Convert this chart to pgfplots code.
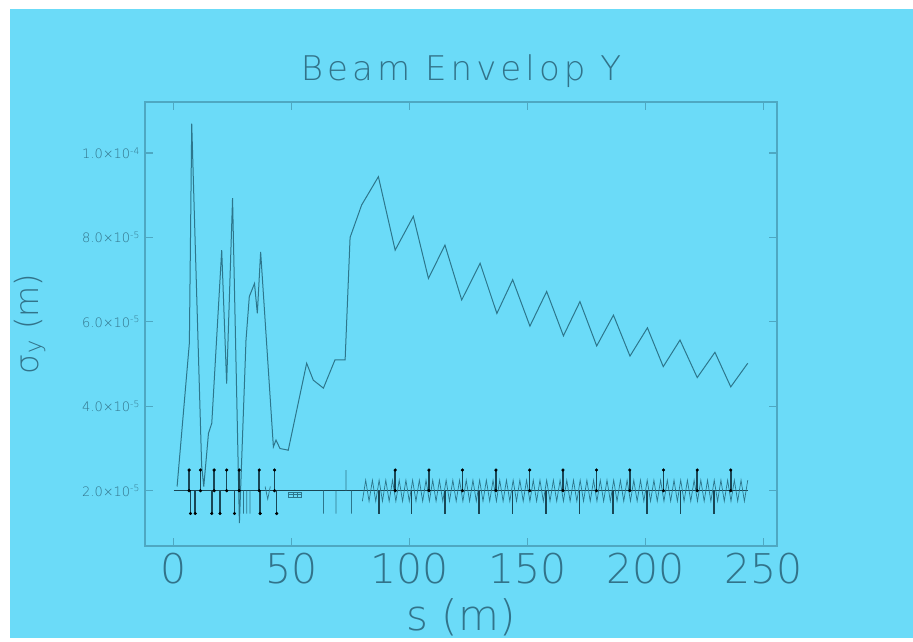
\documentclass[border=0pt]{standalone}
\usepackage{fontspec}
\IfFontExistsTF{DejaVu Sans ExtraLight}{\setmainfont{DejaVu Sans ExtraLight}}{\setmainfont{DejaVu Sans}}
\usepackage{pgfplots}
\usepackage{pgfplotstable}
\pgfplotsset{compat=1.18}
\definecolor{bgblue}{RGB}{107,219,248}
\definecolor{framec}{RGB}{78,168,194}
\definecolor{textc}{RGB}{50,115,138}
\definecolor{curvec}{RGB}{45,118,140}
\definecolor{darkc}{RGB}{25,70,85}

% lattice zigzag (bends), s in m, sigma in m
\pgfplotstableread{
s sig
80.00 1.75e-5
81.42 2.25e-5
82.84 1.75e-5
84.26 2.25e-5
85.68 1.75e-5
87.10 2.25e-5
88.52 1.75e-5
89.94 2.25e-5
91.36 1.75e-5
92.78 2.25e-5
94.20 1.75e-5
95.62 2.25e-5
97.04 1.75e-5
98.46 2.25e-5
99.88 1.75e-5
101.30 2.25e-5
102.72 1.75e-5
104.14 2.25e-5
105.56 1.75e-5
106.98 2.25e-5
108.40 1.75e-5
109.82 2.25e-5
111.24 1.75e-5
112.66 2.25e-5
114.08 1.75e-5
115.50 2.25e-5
116.92 1.75e-5
118.34 2.25e-5
119.76 1.75e-5
121.18 2.25e-5
122.60 1.75e-5
124.02 2.25e-5
125.44 1.75e-5
126.86 2.25e-5
128.28 1.75e-5
129.70 2.25e-5
131.12 1.75e-5
132.54 2.25e-5
133.96 1.75e-5
135.38 2.25e-5
136.80 1.75e-5
138.22 2.25e-5
139.64 1.75e-5
141.06 2.25e-5
142.48 1.75e-5
143.90 2.25e-5
145.32 1.75e-5
146.74 2.25e-5
148.16 1.75e-5
149.58 2.25e-5
151.00 1.75e-5
152.42 2.25e-5
153.84 1.75e-5
155.26 2.25e-5
156.68 1.75e-5
158.10 2.25e-5
159.52 1.75e-5
160.94 2.25e-5
162.36 1.75e-5
163.78 2.25e-5
165.20 1.75e-5
166.62 2.25e-5
168.04 1.75e-5
169.46 2.25e-5
170.88 1.75e-5
172.30 2.25e-5
173.72 1.75e-5
175.14 2.25e-5
176.56 1.75e-5
177.98 2.25e-5
179.40 1.75e-5
180.82 2.25e-5
182.24 1.75e-5
183.66 2.25e-5
185.08 1.75e-5
186.50 2.25e-5
187.92 1.75e-5
189.34 2.25e-5
190.76 1.75e-5
192.18 2.25e-5
193.60 1.75e-5
195.02 2.25e-5
196.44 1.75e-5
197.86 2.25e-5
199.28 1.75e-5
200.70 2.25e-5
202.12 1.75e-5
203.54 2.25e-5
204.96 1.75e-5
206.38 2.25e-5
207.80 1.75e-5
209.22 2.25e-5
210.64 1.75e-5
212.06 2.25e-5
213.48 1.75e-5
214.90 2.25e-5
216.32 1.75e-5
217.74 2.25e-5
219.16 1.75e-5
220.58 2.25e-5
222.00 1.75e-5
223.42 2.25e-5
224.84 1.75e-5
226.26 2.25e-5
227.68 1.75e-5
229.10 2.25e-5
230.52 1.75e-5
231.94 2.25e-5
233.36 1.75e-5
234.78 2.25e-5
236.20 1.75e-5
237.62 2.25e-5
239.04 1.75e-5
240.46 2.25e-5
241.88 1.75e-5
243.30 2.25e-5
}\bendzigzag

\begin{document}
\begin{tikzpicture}
\fill[white] (0,0) rectangle (913pt,641pt);
\fill[bgblue] (10pt,3pt) rectangle (913pt,632pt);
\begin{axis}[
    at={(145pt,95pt)}, anchor=south west,
    width=632pt, height=444pt, scale only axis,
    xmin=-12.1, xmax=255.7,
    ymin=0.69e-5, ymax=11.21e-5,
    scaled y ticks=false,
    unbounded coords=jump,
    axis line style={framec, line width=1.6pt},
    tick pos=both,
    tick align=inside,
    major tick length=8pt,
    every tick/.style={framec, line width=1.2pt},
    xtick={0,50,100,150,200,250},
    xticklabels={0,50,100,150,200,250},
    ytick={2e-5,4e-5,6e-5,8e-5,1e-4},
    yticklabels={2.0×10\textsuperscript{-5},4.0×10\textsuperscript{-5},6.0×10\textsuperscript{-5},8.0×10\textsuperscript{-5},1.0×10\textsuperscript{-4}},
    xticklabel style={font=\fontsize{41}{41}\selectfont, text=textc, inner sep=0pt, yshift=-7pt},
    yticklabel style={font=\fontsize{13}{13}\selectfont, text=textc, inner sep=0pt, xshift=-5pt},
    title={Beam Envelop Y},
    title style={font=\fontsize{34}{34}\selectfont\addfontfeatures{LetterSpace=12}, text=textc,
                 at={(axis description cs:0.5,1)}, anchor=base, yshift=15pt},
    xlabel={s (m)},
    xlabel style={font=\fontsize{42}{42}\selectfont, text=textc,
                  at={(axis description cs:0.5,0)}, anchor=base, yshift=-84pt},
    ylabel={σ\textsubscript{y} (m)},
    ylabel style={font=\fontsize{32}{32}\selectfont, text=textc,
                  at={(axis description cs:-0.182,0.5)}, anchor=center, rotate=0},
]

% beam envelope sigma_y
\addplot[curvec, line width=1pt] coordinates {
    (1.5,2.1e-5) (6.7,5.5e-5) (7.7,10.7e-5) (11.9,2.6e-5) (12.8,2.1e-5)
    (14.8,3.36e-5) (16.2,3.6e-5) (20.4,7.7e-5) (22.5,4.54e-5) (25.0,8.93e-5)
    (27.9,1.23e-5) (30.7,5.57e-5) (32.1,6.6e-5) (34.3,6.91e-5) (35.5,6.2e-5)
    (36.9,7.66e-5) (42.3,3.04e-5) (43.4,3.2e-5) (45.1,3.0e-5) (48.6,2.96e-5)
    (56.4,5.02e-5) (59.2,4.62e-5) (63.5,4.43e-5) (68.4,5.1e-5) (72.7,5.1e-5)
    (74.8,8.0e-5) (79.7,8.77e-5) (86.8,9.44e-5) (93.9,7.7e-5) (101.6,8.5e-5)
    (108.0,7.03e-5) (115.0,7.82e-5) (122.1,6.52e-5) (129.9,7.39e-5) (137.0,6.2e-5)
    (143.7,7.0e-5) (151.0,5.9e-5) (158.1,6.72e-5) (165.2,5.67e-5) (172.2,6.48e-5)
    (179.3,5.43e-5) (186.4,6.16e-5) (193.4,5.19e-5) (200.8,5.86e-5) (207.5,4.94e-5)
    (214.6,5.57e-5) (221.9,4.68e-5) (229.4,5.28e-5) (236.1,4.46e-5) (243.3,5.02e-5)
};

% lattice baseline
\addplot[darkc, line width=0.8pt] coordinates {(0,2e-5) (243.3,2e-5)};

% bends
\addplot[curvec, line width=0.7pt] table[x=s, y=sig] {\bendzigzag};
\addplot[curvec, line width=0.7pt] coordinates {
    (29.6,2e-5) (29.6,1.46e-5) (29.6,nan)
    (31.0,2e-5) (31.0,1.46e-5) (31.0,nan)
    (32.4,2e-5) (32.4,1.46e-5) (32.4,nan)
    (38.8,2.1e-5) (39.9,1.8e-5) (41.0,2.1e-5) (41.0,nan)
    (63.5,2e-5) (63.5,1.46e-5) (63.5,nan)
    (68.8,2e-5) (68.8,1.46e-5) (68.8,nan)
    (73.1,2e-5) (73.1,2.49e-5) (73.1,nan)
    (75.4,2e-5) (75.4,1.46e-5)
};
\addplot[curvec, line width=0.6pt] coordinates {
    (48.8,1.97e-5) (54.2,1.97e-5) (54.2,1.84e-5) (48.8,1.84e-5) (48.8,1.97e-5) (48.8,nan)
    (48.8,1.905e-5) (54.2,1.905e-5) (54.2,nan)
    (50.6,1.97e-5) (50.6,1.84e-5) (50.6,nan)
    (52.4,1.97e-5) (52.4,1.84e-5)
};

% quadrupoles, focusing (up)
\addplot[darkc, line width=1.6pt] coordinates {
    (6.6,2e-5) (6.6,2.49e-5) (6.6,nan)
    (11.4,2e-5) (11.4,2.49e-5) (11.4,nan)
    (17.2,2e-5) (17.2,2.49e-5) (17.2,nan)
    (22.5,2e-5) (22.5,2.49e-5) (22.5,nan)
    (27.8,2e-5) (27.8,2.49e-5) (27.8,nan)
    (36.3,2e-5) (36.3,2.49e-5) (36.3,nan)
    (42.8,2e-5) (42.8,2.49e-5) (42.8,nan)
    (93.9,2e-5) (93.9,2.49e-5) (93.9,nan)
    (108.2,2e-5) (108.2,2.49e-5) (108.2,nan)
    (122.4,2e-5) (122.4,2.49e-5) (122.4,nan)
    (136.6,2e-5) (136.6,2.49e-5) (136.6,nan)
    (150.9,2e-5) (150.9,2.49e-5) (150.9,nan)
    (165.0,2e-5) (165.0,2.49e-5) (165.0,nan)
    (179.2,2e-5) (179.2,2.49e-5) (179.2,nan)
    (193.3,2e-5) (193.3,2.49e-5) (193.3,nan)
    (207.6,2e-5) (207.6,2.49e-5) (207.6,nan)
    (221.9,2e-5) (221.9,2.49e-5) (221.9,nan)
    (236.1,2e-5) (236.1,2.49e-5)
};
\addplot[only marks, mark=*, mark size=1.4pt, black] coordinates {
    (6.6,2e-5) (6.6,2.49e-5) (11.4,2e-5) (11.4,2.49e-5) (17.2,2e-5) (17.2,2.49e-5)
    (22.5,2e-5) (22.5,2.49e-5) (27.8,2e-5) (27.8,2.49e-5) (36.3,2e-5) (36.3,2.49e-5)
    (42.8,2e-5) (42.8,2.49e-5) (93.9,2e-5) (93.9,2.49e-5) (108.2,2e-5) (108.2,2.49e-5)
    (122.4,2e-5) (122.4,2.49e-5) (136.6,2e-5) (136.6,2.49e-5) (150.9,2e-5) (150.9,2.49e-5)
    (165.0,2e-5) (165.0,2.49e-5) (179.2,2e-5) (179.2,2.49e-5) (193.3,2e-5) (193.3,2.49e-5)
    (207.6,2e-5) (207.6,2.49e-5) (221.9,2e-5) (221.9,2.49e-5) (236.1,2e-5) (236.1,2.49e-5)
};

% quadrupoles, defocusing (down)
\addplot[darkc, line width=1.6pt] coordinates {
    (7.2,2e-5) (7.2,1.46e-5) (7.2,nan)
    (9.2,2e-5) (9.2,1.46e-5) (9.2,nan)
    (16.2,2e-5) (16.2,1.46e-5) (16.2,nan)
    (19.7,2e-5) (19.7,1.46e-5) (19.7,nan)
    (25.8,2e-5) (25.8,1.46e-5) (25.8,nan)
    (36.7,2e-5) (36.7,1.46e-5) (36.7,nan)
    (43.7,2e-5) (43.7,1.46e-5) (43.7,nan)
    (87.0,2e-5) (87.0,1.46e-5) (87.0,nan)
    (100.8,2e-5) (100.8,1.46e-5) (100.8,nan)
    (115.1,2e-5) (115.1,1.46e-5) (115.1,nan)
    (129.4,2e-5) (129.4,1.46e-5) (129.4,nan)
    (143.6,2e-5) (143.6,1.46e-5) (143.6,nan)
    (157.8,2e-5) (157.8,1.46e-5) (157.8,nan)
    (172.0,2e-5) (172.0,1.46e-5) (172.0,nan)
    (186.3,2e-5) (186.3,1.46e-5) (186.3,nan)
    (200.6,2e-5) (200.6,1.46e-5) (200.6,nan)
    (214.8,2e-5) (214.8,1.46e-5) (214.8,nan)
    (229.1,2e-5) (229.1,1.46e-5)
};
\addplot[only marks, mark=*, mark size=1.4pt, black] coordinates {
    (7.2,1.46e-5) (9.2,1.46e-5) (16.2,1.46e-5) (19.7,1.46e-5)
    (25.8,1.46e-5) (36.7,1.46e-5) (43.7,1.46e-5)
};
\end{axis}
\pgfresetboundingbox
\useasboundingbox (0,0) rectangle (913pt,641pt);
\end{tikzpicture}
\end{document}
